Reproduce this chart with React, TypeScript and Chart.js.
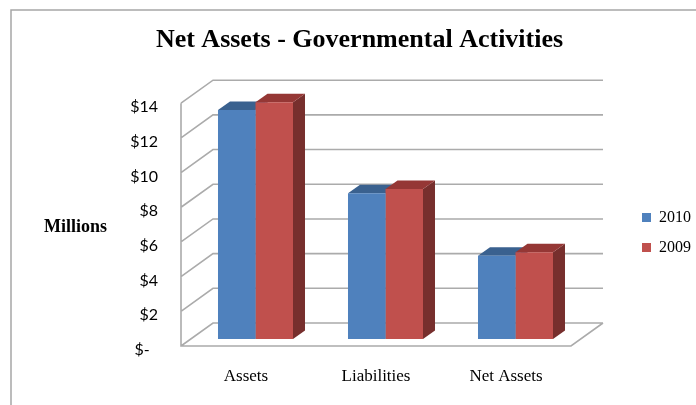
import React, { useEffect, useRef } from "react";
import { Chart, registerables } from "chart.js";

Chart.register(...registerables);

const categories = ["Assets", "Liabilities", "Net Assets"];
const values2010 = [13.2, 8.4, 4.8];
const values2009 = [13.65, 8.65, 5.0];
const yTickLabels: Record<number, string> = {
  0: "$-  ",
  2: "$2",
  4: "$4",
  6: "$6",
  8: "$8",
  10: "$10",
  12: "$12",
  14: "$14",
};

const SERIF = "'Liberation Serif', 'Times New Roman', serif";
const GRID = "#ABABAB";
const WALL = { dx: 32, dy: -23 };
const BAR_SHIFT = { dx: 9.5, dy: -7 };
const BAR_DEPTH = { dx: 12, dy: -8.5 };
const FACES = [
  { top: "#3A618F", side: "#2F4F75" },
  { top: "#953735", side: "#772F2D" },
];

const chart3d = {
  id: "chart3d",
  beforeDraw(chart: any) {
    const { ctx } = chart;
    ctx.save();
    ctx.strokeStyle = "#A6A6A6";
    ctx.lineWidth = 1.5;
    ctx.beginPath();
    ctx.moveTo(11, 405);
    ctx.lineTo(11, 10);
    ctx.lineTo(696, 10);
    ctx.stroke();

    ctx.fillStyle = "#000";
    ctx.font = "bold 18px " + SERIF;
    ctx.textBaseline = "middle";
    ctx.textAlign = "left";
    ctx.fillText("Millions", 44, 227);
    ctx.restore();
  },
  beforeDatasetsDraw(chart: any) {
    const { ctx, chartArea, scales } = chart;
    const { left, right, bottom, top } = chartArea;
    ctx.save();
    ctx.strokeStyle = GRID;
    ctx.lineWidth = 1.6;
    ctx.beginPath();
    scales.y.ticks.forEach((t: any) => {
      const py = scales.y.getPixelForValue(t.value);
      ctx.moveTo(left, py);
      ctx.lineTo(left + WALL.dx, py + WALL.dy);
      ctx.lineTo(right + WALL.dx, py + WALL.dy);
    });
    ctx.moveTo(left, top);
    ctx.lineTo(left, bottom);
    ctx.lineTo(right, bottom);
    ctx.lineTo(right + WALL.dx, bottom + WALL.dy);
    ctx.stroke();
    ctx.restore();

    ctx.save();
    ctx.translate(BAR_SHIFT.dx, BAR_SHIFT.dy);
    chart.data.datasets.forEach((_: any, i: number) => {
      chart.getDatasetMeta(i).data.forEach((bar: any) => {
        const { x, y, base, width } = bar.getProps(["x", "y", "base", "width"], true);
        const l = x - width / 2;
        const r = x + width / 2;
        const { dx, dy } = BAR_DEPTH;
        ctx.fillStyle = FACES[i].side;
        ctx.beginPath();
        ctx.moveTo(r, y);
        ctx.lineTo(r + dx, y + dy);
        ctx.lineTo(r + dx, base + dy);
        ctx.lineTo(r, base);
        ctx.closePath();
        ctx.fill();
        ctx.fillStyle = FACES[i].top;
        ctx.beginPath();
        ctx.moveTo(l, y);
        ctx.lineTo(l + dx, y + dy);
        ctx.lineTo(r + dx, y + dy);
        ctx.lineTo(r, y);
        ctx.closePath();
        ctx.fill();
      });
    });
  },
  afterDatasetsDraw(chart: any) {
    chart.ctx.restore();
  },
};

export default function App() {
  const ref = useRef<HTMLCanvasElement>(null);
  useEffect(() => {
    document.body.style.margin = "0";
    const chart = new Chart(ref.current as HTMLCanvasElement, {
      type: "bar",
      plugins: [chart3d],
      data: {
        labels: categories,
        datasets: [
          { label: "2010", data: values2010, backgroundColor: "#4F81BD", clip: false, yAxisID: "y" },
          { label: "2009", data: values2009, backgroundColor: "#C0504D", clip: false, yAxisID: "y" },
        ],
      } as any,
      options: {
        animation: false,
        responsive: false,
        layout: { padding: { left: 18, right: -5, top: 0, bottom: -60 } },
        datasets: { bar: { categoryPercentage: 0.577, barPercentage: 1 } },
        plugins: {
          tooltip: { enabled: false },
          title: {
            display: true,
            text: "Net Assets - Governmental Activities",
            color: "#000",
            font: { family: SERIF, size: 26, weight: "bold" },
            padding: { top: 25, bottom: 47 },
          },
          legend: {
            position: "right",
            align: "center",
            labels: {
              boxWidth: 9,
              boxHeight: 9,
              padding: 14,
              color: "#000",
              font: { family: SERIF, size: 16 },
            },
          },
        },
        scales: {
          x: {
            grid: { display: false },
            border: { display: false },
            ticks: {
              color: "#000",
              font: { family: SERIF, size: 17 },
              padding: 12,
              maxRotation: 0,
            },
            afterFit: (s: any) => { s.height = 119; },
          },
          y: {
            min: 0,
            max: 14,
            grid: { display: false },
            border: { display: false },
            ticks: {
              stepSize: 2,
              color: "#000",
              font: { family: "Lato", size: 16 },
              padding: 15,
              labelOffset: 4,
              callback: (v: any) => yTickLabels[v as number],
            },
            afterFit: (s: any) => { s.width = 163; },
          },
          legendGap: {
            position: "right",
            grid: { display: false },
            border: { display: false },
            ticks: { display: false },
            afterFit: (s: any) => { s.width = 57; },
          },
        },
      } as any,
    });
    return () => chart.destroy();
  }, []);
  return <canvas ref={ref} width={696} height={405} style={{ display: "block" }} />;
}
